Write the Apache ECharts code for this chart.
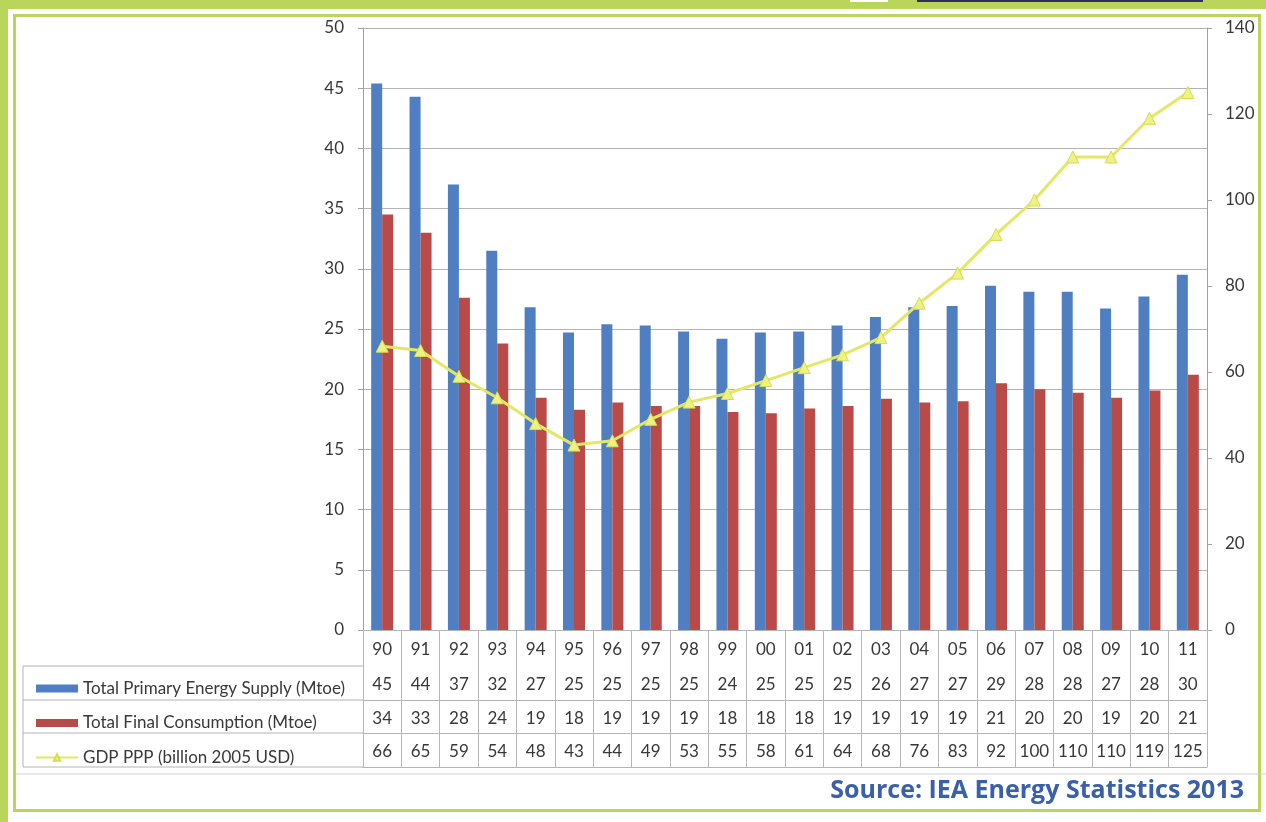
<!DOCTYPE html>
<html>
<head>
<meta charset="utf-8">
<title>Energy supply, consumption and GDP</title>
<script src="https://cdn.jsdelivr.net/npm/echarts@6/dist/echarts.min.js"></script>
<style>
	html,body{margin:0;padding:0;background:#fff;}
	#chart{width:1266px;height:822px;}
</style>
</head>
<body>
<div id="chart"></div>
<script>
// years (2-digit labels as on the chart)
var years = ['90','91','92','93','94','95','96','97','98','99','00','01','02','03','04','05','06','07','08','09','10','11'];
// bar heights (Mtoe)
var tpes = [45.4,44.3,37.0,31.5,26.8,24.7,25.4,25.3,24.8,24.2,24.7,24.8,25.3,26.0,26.8,26.9,28.6,28.1,28.1,26.7,27.7,29.5];
var tfc = [34.5,33.0,27.6,23.8,19.3,18.3,18.9,18.6,18.6,18.1,18.0,18.4,18.6,19.2,18.9,19.0,20.5,20.0,19.7,19.3,19.9,21.2];
// GDP PPP (billion 2005 USD)
var gdp = [66,65,59,54,48,43,44,49,53,55,58,61,64,68,76,83,92,100,110,110,119,125];
// data table text
var tpesTable = ['45','44','37','32','27','25','25','25','25','24','25','25','25','26','27','27','29','28','28','27','28','30'];
var tfcTable = ['34','33','28','24','19','18','19','19','19','18','18','18','19','19','19','19','21','20','20','19','20','21'];
var gdpTable = ['66','65','59','54','48','43','44','49','53','55','58','61','64','68','76','83','92','100','110','110','119','125'];

var names = ['Total Primary Energy Supply (Mtoe)','Total Final Consumption (Mtoe)','GDP PPP (billion 2005 USD)'];

var FONT = 'Lato';
var TXT = '#383838';
var GREEN = '#b9d65a';

function tableAxis(offset,labels){
	return {
		type:'category',
		data:years,
		position:'bottom',
		offset:offset,
		axisLine:{show:true,lineStyle:{color:'#b4b4b4',width:1}},
		axisTick:{show:false},
		axisLabel:{
			show:labels!=null,
			interval:0,
			margin:10,
			fontFamily:FONT,
			fontSize:17,
			color:TXT,
			formatter:function(v,i){return labels?labels[i]:'';}
		}
	};
}

function drawChart(){
	var mychart = echarts.init(document.getElementById('chart'),null,{renderer:'canvas'});
	var option = {
		animation:false,
		backgroundColor:'#fff',
		grid:{left:363,right:59,top:28,bottom:192,outerBoundsMode:'none'},
		legend:{
			orient:'vertical',
			left:30,
			top:675,
			itemWidth:42,
			itemHeight:8,
			itemGap:17.5,
			textStyle:{fontFamily:FONT,fontSize:17,color:TXT,lineHeight:16},
			data:[
				{name:names[0],icon:'rect'},
				{name:names[1],icon:'rect'},
				{name:names[2]}
			]
		},
		xAxis:[
			{
				type:'category',
				data:years,
				position:'bottom',
				boundaryGap:true,
				axisLine:{show:true,lineStyle:{color:'#a0a0a0',width:1}},
				axisTick:{show:true,interval:0,alignWithLabel:false,length:137,lineStyle:{color:'#b8b8b8',width:1}},
				axisLabel:{interval:0,margin:11,fontFamily:FONT,fontSize:17,color:TXT}
			},
			tableAxis(36,tpesTable),
			tableAxis(70,tfcTable),
			tableAxis(103,gdpTable),
			tableAxis(137,null)
		],
		yAxis:[
			{
				type:'value',
				min:0,max:50,interval:5,
				axisLine:{show:true,lineStyle:{color:'#a0a0a0'}},
				axisTick:{show:true,length:5,lineStyle:{color:'#a0a0a0'}},
				axisLabel:{margin:19,fontFamily:FONT,fontSize:17,color:TXT},
				splitLine:{lineStyle:{color:'#b4b4b4',width:1}}
			},
			{
				type:'value',
				min:0,max:140,interval:20,
				position:'right',
				axisLine:{show:true,lineStyle:{color:'#a0a0a0'}},
				axisTick:{show:true,length:5,lineStyle:{color:'#a0a0a0'}},
				axisLabel:{margin:18,fontFamily:FONT,fontSize:17,color:TXT},
				splitLine:{show:false}
			}
		],
		series:[
			{
				name:names[0],
				type:'bar',
				yAxisIndex:0,
				barWidth:11,
				barGap:'0%',
				itemStyle:{color:'#4f7fc0'},
				data:tpes
			},
			{
				name:names[1],
				type:'bar',
				yAxisIndex:0,
				barWidth:11,
				barGap:'0%',
				itemStyle:{color:'#b84a48'},
				data:tfc
			},
			{
				name:names[2],
				type:'line',
				yAxisIndex:1,
				symbol:'triangle',
				symbolSize:12,
				lineStyle:{color:'#e2e866',width:3},
				itemStyle:{color:'#eef184',borderColor:'#d6dc50',borderWidth:1},
				data:gdp
			}
		],
		graphic:[
			// frame
			{type:'rect',shape:{x:0,y:0,width:1266,height:9},style:{fill:GREEN},silent:true},
			{type:'rect',shape:{x:850,y:0,width:38,height:2},style:{fill:'#fff'},silent:true},
			{type:'rect',shape:{x:917,y:0,width:286,height:2},style:{fill:'#2f2f5c'},silent:true},
			{type:'rect',shape:{x:0,y:0,width:8,height:822},style:{fill:GREEN},silent:true},
			{type:'rect',shape:{x:13,y:14,width:1248,height:3},style:{fill:GREEN},silent:true},
			{type:'rect',shape:{x:13,y:14,width:3,height:798},style:{fill:GREEN},silent:true},
			{type:'rect',shape:{x:1258,y:14,width:3,height:798},style:{fill:GREEN},silent:true},
			{type:'rect',shape:{x:13,y:809,width:1248,height:3},style:{fill:GREEN},silent:true},
			// legend box of the data table
			{type:'line',shape:{x1:23,y1:666,x2:363,y2:666},style:{stroke:'#b4b4b4',lineWidth:1},silent:true},
			{type:'line',shape:{x1:23,y1:700,x2:363,y2:700},style:{stroke:'#b4b4b4',lineWidth:1},silent:true},
			{type:'line',shape:{x1:23,y1:733,x2:363,y2:733},style:{stroke:'#b4b4b4',lineWidth:1},silent:true},
			{type:'line',shape:{x1:23,y1:767,x2:363,y2:767},style:{stroke:'#b4b4b4',lineWidth:1},silent:true},
			{type:'line',shape:{x1:23,y1:666,x2:23,y2:767},style:{stroke:'#b4b4b4',lineWidth:1},silent:true},
			{type:'line',shape:{x1:16,y1:774,x2:1266,y2:774},style:{stroke:'#d0d0d0',lineWidth:1},silent:true},
			// source
			{
				type:'text',
				right:22,
				top:778,
				style:{text:'Source: IEA Energy Statistics 2013',fill:'#3a60a8',font:'bold 25px "Open Sans"'},
				silent:true
			}
		]
	};
	mychart.setOption(option);
}
drawChart();
</script>
</body>
</html>
